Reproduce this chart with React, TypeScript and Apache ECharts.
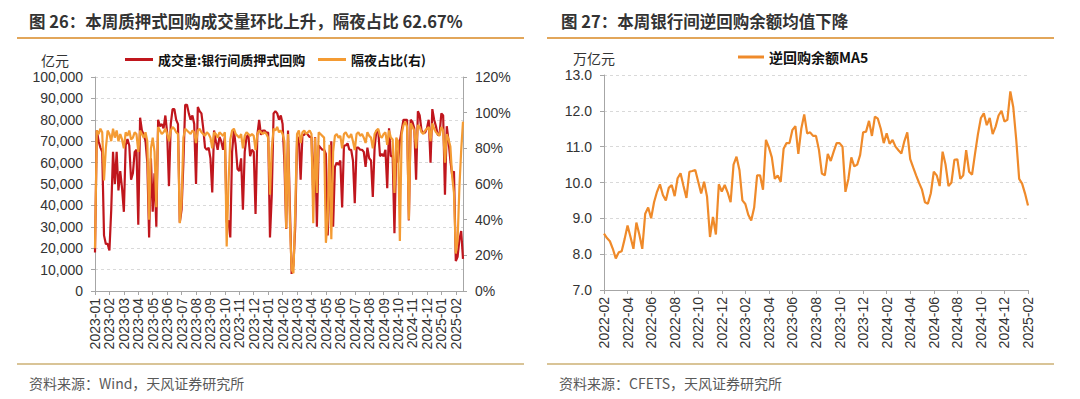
import React, { useEffect, useRef } from 'react';
import * as echarts from 'echarts';

// ---------- Left chart data (8 samples per month) ----------
const volMonths = [
  '2023-01', '2023-02', '2023-03', '2023-04', '2023-05', '2023-06', '2023-07', '2023-08', '2023-09',
  '2023-10', '2023-11', '2023-12', '2024-01', '2024-02', '2024-03', '2024-04', '2024-05', '2024-06',
  '2024-07', '2024-08', '2024-09', '2024-10', '2024-11', '2024-12', '2025-01', '2025-02',
];

// 成交量:银行间质押式回购 (亿元)
const repoVolume = [
  18000, 75000, 70000, 67000, 65000, 26000, 22000, 22000, // 2023-01
  19000, 38000, 65000, 50000, 65000, 47000, 56000, 48000, // 2023-02
  37000, 68000, 71000, 68000, 52000, 55000, 65000, 66000, // 2023-03
  31000, 81000, 75000, 73000, 70000, 60000, 25000, 62000, // 2023-04
  37000, 55000, 30000, 80000, 77000, 78000, 76000, 82000, // 2023-05
  74000, 49000, 78000, 85000, 85000, 80000, 78000, 32000, // 2023-06
  38000, 60000, 87000, 87000, 83000, 80000, 82000, 78000, // 2023-07
  50000, 86000, 84000, 83000, 76000, 67000, 66000, 67000, // 2023-08
  62000, 46000, 75000, 70000, 66000, 72000, 70000, 66000, // 2023-09
  72000, 32000, 33000, 25000, 65000, 75000, 68000, 57000, // 2023-10
  56000, 62000, 38000, 65000, 72000, 73000, 63000, 66000, // 2023-11
  65000, 36000, 73000, 80000, 73000, 75000, 75000, 74000, // 2023-12
  74000, 25000, 45000, 83000, 84000, 83000, 80000, 82000, // 2024-01
  78000, 60000, 29000, 75000, 40000, 8000, 12000, 30000, // 2024-02
  70000, 72000, 52000, 73000, 73000, 74000, 73000, 72000, // 2024-03
  72000, 44000, 72000, 30000, 68000, 67000, 66000, 66000, // 2024-04
  64000, 26000, 50000, 70000, 30000, 58000, 60000, 59000, // 2024-05
  61000, 39000, 68000, 68000, 69000, 66000, 66000, 61000, // 2024-06
  41000, 67000, 67000, 66000, 66000, 65000, 58000, 67000, // 2024-07
  62000, 61000, 44000, 67000, 75000, 75000, 63000, 64000, // 2024-08
  63000, 66000, 48000, 76000, 63000, 63000, 27000, 66000, // 2024-09
  60000, 70000, 75000, 80000, 80000, 80000, 33000, 80000, // 2024-10
  79000, 76000, 52000, 84000, 82000, 75000, 74000, 74000, // 2024-11
  76000, 80000, 60000, 85000, 80000, 77000, 73000, 73000, // 2024-12
  83000, 82000, 45000, 77000, 70000, 61000, 54000, 56000, // 2025-01
  14000, 16000, 24000, 28000, 15000, // 2025-02
];

// 隔夜占比 (%)
const overnightShare = [
  24, 90, 88, 91, 89, 62, 80, 90, // 2023-01
  88, 84, 91, 86, 90, 84, 88, 85, // 2023-02
  80, 89, 87, 90, 85, 86, 89, 88, // 2023-03
  78, 90, 88, 86, 89, 84, 40, 80, // 2023-04
  86, 78, 47, 92, 90, 88, 89, 91, // 2023-05
  88, 84, 90, 92, 91, 89, 88, 38, // 2023-06
  50, 86, 91, 90, 89, 88, 90, 89, // 2023-07
  83, 90, 91, 89, 88, 87, 89, 88, // 2023-08
  86, 80, 89, 88, 86, 89, 88, 87, // 2023-09
  89, 25, 60, 85, 90, 91, 88, 87, // 2023-10
  86, 88, 80, 87, 89, 88, 87, 88, // 2023-11
  87, 79, 88, 90, 89, 88, 89, 88, // 2023-12
  86, 54, 80, 91, 90, 92, 89, 90, // 2024-01
  88, 84, 35, 88, 40, 12, 10, 45, // 2024-02
  88, 90, 83, 89, 90, 88, 89, 90, // 2024-03
  88, 38, 86, 55, 89, 88, 87, 86, // 2024-04
  27, 40, 82, 29, 78, 87, 88, 86, // 2024-05
  87, 80, 88, 89, 87, 86, 88, 84, // 2024-06
  79, 88, 89, 87, 88, 86, 83, 89, // 2024-07
  87, 86, 80, 88, 90, 91, 87, 86, // 2024-08
  88, 89, 82, 90, 86, 85, 55, 86, // 2024-09
  84, 28, 88, 93, 95, 92, 40, 94, // 2024-10
  92, 90, 80, 93, 92, 89, 88, 90, // 2024-11
  91, 92, 84, 94, 91, 89, 88, 87, // 2024-12
  92, 90, 72, 88, 85, 81, 64, 55, // 2025-01
  21, 28, 58, 79, 95, // 2025-02
];

// ---------- Right chart data (4 samples per month, labels every 2 months) ----------
const balMonths = [
  '2022-02', '2022-04', '2022-06', '2022-08', '2022-10', '2022-12', '2023-02', '2023-04', '2023-06',
  '2023-08', '2023-10', '2023-12', '2024-02', '2024-04', '2024-06', '2024-08', '2024-10', '2024-12',
  '2025-02',
];

// 逆回购余额MA5 (万亿元)
const reverseRepoMA5 = [
  8.57, 8.45, 8.36, 8.15, 7.88, 8.05, 8.08, 8.42,
  8.8, 8.48, 8.15, 8.88, 8.55, 8.15, 9.13, 9.3,
  9.0, 9.45, 9.74, 9.95, 9.65, 9.5, 9.85, 9.93,
  9.62, 10.12, 10.26, 9.9, 9.57, 10.3, 10.32, 10.35,
  10.02, 9.69, 10.02, 9.6, 8.48, 9.04, 8.55, 9.95,
  9.75, 9.93, 9.72, 9.45, 10.5, 10.72, 10.35, 9.5,
  9.4, 9.1, 8.94, 9.3, 10.2, 10.2, 9.8, 11.19,
  10.98, 10.7, 10.1, 10.2, 10.02, 10.94, 11.1, 11.1,
  11.47, 11.57, 10.8, 11.5, 11.9, 11.37, 11.4, 11.3,
  11.3, 10.91, 10.25, 10.2, 10.8, 10.6, 10.86, 11.1,
  11.1, 11.0, 9.74, 10.1, 10.7, 10.45, 10.5, 10.77,
  11.4, 11.42, 11.72, 11.3, 11.84, 11.78, 11.5, 11.1,
  11.37, 11.08, 11.19, 11.0, 10.9, 10.81, 11.15, 11.4,
  10.65, 10.42, 10.2, 9.99, 9.8, 9.45, 9.41, 9.7,
  10.3, 10.2, 9.9, 10.86, 10.5, 9.9, 10.0, 10.63,
  10.65, 10.1, 10.2, 10.9, 10.3, 10.22, 10.8, 11.35,
  11.8, 11.93, 11.6, 11.8, 11.35, 11.56, 11.87, 12.0,
  11.7, 11.75, 12.54, 12.1, 11.2, 10.1, 9.97, 9.69,
  9.36,
];

const LEFT_STEP = 8;
const RIGHT_STEP = 8;

const FONT = '"Liberation Sans", Arial, "Noto Sans CJK SC", sans-serif';
const CJK = '"Noto Sans CJK SC", "Liberation Sans", sans-serif';
const RED = '#C0161D';
const ORANGE = '#F49B33';
const ORANGE2 = '#EF8A2A';
const AXIS = '#A6A6A6';
const LABEL = '#333333';
const GRIDLINE = '#D9D9D9';

const leftCats = repoVolume.map((_, i) => volMonths[Math.floor(i / LEFT_STEP)] + '#' + (i % LEFT_STEP));
const rightCats = reverseRepoMA5.map((_, i) => balMonths[Math.floor(i / RIGHT_STEP)] + '#' + (i % RIGHT_STEP));

const showLeft = (idx: number) => idx % LEFT_STEP === 0;
const showRight = (idx: number) => idx % RIGHT_STEP === 0;

function buildOption(): any {
  const xAxisCommon = (show: (i: number) => boolean) => ({
    type: 'category',
    boundaryGap: false,
    axisLine: { lineStyle: { color: AXIS, width: 1 } },
    axisTick: { show: true, interval: (i: number) => show(i), length: 4, lineStyle: { color: AXIS } },
    axisLabel: {
      interval: (i: number) => show(i),
      rotate: 90,
      margin: 7,
      fontSize: 14,
      color: LABEL,
      fontFamily: FONT,
      formatter: (v: string) => v.split('#')[0],
    },
    splitLine: { show: false },
  });

  const legendText = (size: number) => ({ fontSize: size, color: '#111111', fontFamily: CJK, fontWeight: 'bold' });

  return {
    animation: false,
    backgroundColor: '#ffffff',
    textStyle: { fontFamily: FONT },
    grid: [
      { left: 95, right: 1080 - 463, top: 77, bottom: 399 - 291 },
      { left: 604, right: 1080 - 1028, top: 75, bottom: 399 - 290 },
    ],
    legend: [
      {
        left: 125, top: 53, padding: 0, icon: 'rect', itemWidth: 28, itemHeight: 3,
        selectedMode: false, data: ['成交量:银行间质押式回购'], textStyle: legendText(13),
      },
      {
        left: 318, top: 53, padding: 0, icon: 'rect', itemWidth: 28, itemHeight: 3,
        selectedMode: false, data: ['隔夜占比(右)'], textStyle: legendText(13),
      },
      {
        left: 738, top: 50, padding: 0, icon: 'rect', itemWidth: 26, itemHeight: 3,
        selectedMode: false, data: ['逆回购余额MA5'], textStyle: legendText(14),
      },
    ],
    xAxis: [
      { ...xAxisCommon(showLeft), gridIndex: 0, data: leftCats },
      { ...xAxisCommon(showRight), gridIndex: 1, data: rightCats },
    ],
    yAxis: [
      {
        type: 'value', gridIndex: 0, min: 0, max: 100000, interval: 10000,
        axisLine: { show: true, lineStyle: { color: AXIS } },
        axisTick: { show: true, length: 4, lineStyle: { color: AXIS } },
        axisLabel: {
          fontSize: 14, color: LABEL, margin: 12, fontFamily: FONT,
          formatter: (v: number) => v.toLocaleString('en-US'),
        },
        splitLine: { show: true, lineStyle: { color: GRIDLINE, type: [3, 3] } },
      },
      {
        type: 'value', gridIndex: 0, position: 'right', min: 0, max: 120, interval: 20,
        axisLine: { show: true, lineStyle: { color: AXIS } },
        axisTick: { show: true, length: 4, lineStyle: { color: AXIS } },
        axisLabel: { fontSize: 14, color: LABEL, margin: 12, fontFamily: FONT, formatter: '{value}%' },
        splitLine: { show: false },
      },
      {
        type: 'value', gridIndex: 1, min: 7, max: 13, interval: 1,
        axisLine: { show: true, lineStyle: { color: AXIS } },
        axisTick: { show: true, length: 4, lineStyle: { color: AXIS } },
        axisLabel: {
          fontSize: 14, color: LABEL, margin: 12, fontFamily: FONT,
          formatter: (v: number) => v.toFixed(1),
        },
        splitLine: { show: true, lineStyle: { color: GRIDLINE, type: [3, 3] } },
      },
    ],
    series: [
      {
        name: '成交量:银行间质押式回购', type: 'line', xAxisIndex: 0, yAxisIndex: 0,
        data: repoVolume, symbol: 'none', color: RED,
        lineStyle: { color: RED, width: 2.2 },
      },
      {
        name: '隔夜占比(右)', type: 'line', xAxisIndex: 0, yAxisIndex: 1,
        data: overnightShare, symbol: 'none', color: ORANGE,
        lineStyle: { color: ORANGE, width: 2.2 },
      },
      {
        name: '逆回购余额MA5', type: 'line', xAxisIndex: 1, yAxisIndex: 2,
        data: reverseRepoMA5, symbol: 'none', color: ORANGE2,
        lineStyle: { color: ORANGE2, width: 2.2 },
      },
    ],
    graphic: [
      {
        type: 'text', x: 29, y: 21,
        style: {
          text: '图 26：本周质押式回购成交量环比上升，隔夜占比 62.67%',
          font: `bold 16.5px ${CJK}`, fill: '#333333', verticalAlign: 'middle',
        },
      },
      {
        type: 'text', x: 561, y: 21,
        style: {
          text: '图 27：本周银行间逆回购余额均值下降',
          font: `bold 16.5px ${CJK}`, fill: '#333333', verticalAlign: 'middle',
        },
      },
      { type: 'line', shape: { x1: 17, y1: 38, x2: 524, y2: 38 }, style: { stroke: '#E2A65A', lineWidth: 2 } },
      { type: 'line', shape: { x1: 547, y1: 38, x2: 1054, y2: 38 }, style: { stroke: '#E2A65A', lineWidth: 2 } },
      { type: 'line', shape: { x1: 17, y1: 364, x2: 524, y2: 364 }, style: { stroke: '#D9C497', lineWidth: 2 } },
      { type: 'line', shape: { x1: 547, y1: 364, x2: 1054, y2: 364 }, style: { stroke: '#D9C497', lineWidth: 2 } },
      {
        type: 'text', x: 41, y: 60,
        style: { text: '亿元', font: `14px ${CJK}`, fill: '#333333', verticalAlign: 'middle' },
      },
      {
        type: 'text', x: 573, y: 58,
        style: { text: '万亿元', font: `14px ${CJK}`, fill: '#333333', verticalAlign: 'middle' },
      },
      {
        type: 'text', x: 29, y: 383,
        style: { text: '资料来源：Wind，天风证券研究所', font: `14px ${CJK}`, fill: '#595959', verticalAlign: 'middle' },
      },
      {
        type: 'text', x: 559, y: 383,
        style: { text: '资料来源：CFETS，天风证券研究所', font: `14px ${CJK}`, fill: '#595959', verticalAlign: 'middle' },
      },
    ],
  };
}

export default function App() {
  const ref = useRef<HTMLDivElement>(null);
  useEffect(() => {
    if (!ref.current) return;
    const chart = echarts.init(ref.current, undefined, { renderer: 'svg' });
    chart.setOption(buildOption());
    return () => chart.dispose();
  }, []);
  return (
    <div
      ref={ref}
      style={{ position: 'absolute', left: 0, top: 0, width: 1080, height: 399, background: '#ffffff' }}
    />
  );
}
